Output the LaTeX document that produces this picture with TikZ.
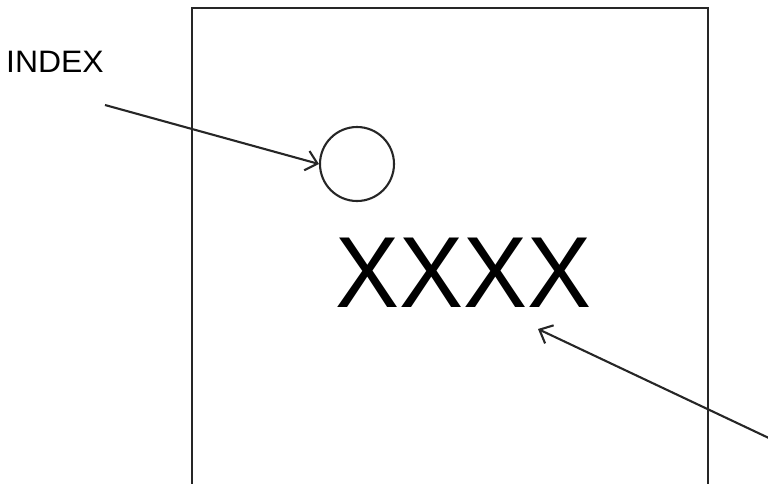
\documentclass[tikz,border=0pt]{standalone}
\usepackage{fontspec}
\setmainfont{Liberation Sans}
\usetikzlibrary{arrows.meta}
\begin{document}
\begin{tikzpicture}[x=1pt,y=-1pt,
  ln/.style={line width=2.1pt, draw=black!85},
  arr/.style={ln, -{Straight Barb[length=11pt,width=20pt,line width=2.1pt]}}]
\useasboundingbox (0,0) rectangle (768,483);
\clip (0,0) rectangle (768,483);
\draw[ln] (192,500) -- (192,8) -- (708,8) -- (708,500);
\node[circle, ln, minimum size=74pt, inner sep=0pt] (idx) at (357,164) {};
\node[anchor=center, inner sep=0pt, xscale=1.03, font=\fontsize{31}{31}\selectfont] (lab) at (55,62) {INDEX};
\node[anchor=center, inner sep=0pt, xscale=0.95, font=\fontsize{101}{101}\selectfont] (xx) at (463,273) {XXXX};
\coordinate (s1) at (105,105);
\coordinate (s2) at (790,448);
\coordinate (t2) at (538,329);
\draw[arr] (s1) -- (idx.west);
\draw[arr] (s2) -- (t2);
\end{tikzpicture}
\end{document}
